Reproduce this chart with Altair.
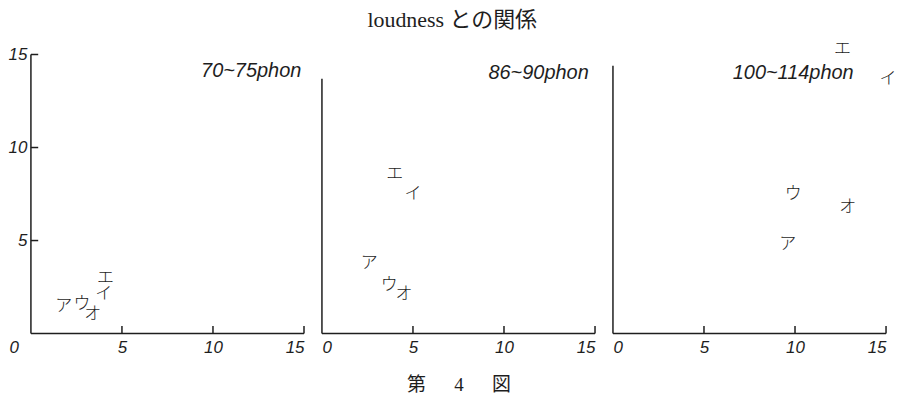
import altair as alt
import pandas as pd

# ---- data ----
kana = ["ア", "イ", "ウ", "エ", "オ"]
panel_names = ["70~75phon", "86~90phon", "100~114phon"]
p1_x = [1.8, 4.0, 2.8, 4.1, 3.4]
p1_y = [1.5, 2.15, 1.6, 3.0, 1.07]
p2_x = [2.6, 5.0, 3.7, 4.0, 4.5]
p2_y = [3.8, 7.5, 2.6, 8.6, 2.1]
p3_x = [9.6, 15.1, 9.9, 12.6, 12.9]
p3_y = [4.8, 13.7, 7.5, 15.3, 6.8]
label_x = [12.1, 11.9, 9.9]
label_y = [14.1, 14.0, 14.0]
y_axis_top = [15, 13.7, 14.4]
x_label_values = [0, 5, 10, 15]
x_tick_values = [5, 10, 15]
y_tick_values = [5, 10, 15]
tick_len = 0.4
caption = "第\u3000\u20024\u3000\u2002図"
main_title = "loudness との関係"

points = [(p1_x, p1_y), (p2_x, p2_y), (p3_x, p3_y)]

SERIF = "Liberation Serif, Noto Sans CJK JP"
HAND = "Liberation Sans"
INK = "#1e1e1e"

xs = alt.Scale(domain=[0, 15], nice=False)
ys = alt.Scale(domain=[0, 15], nice=False)


def panel(i):
    px, py = points[i]
    pts = pd.DataFrame({"x": px, "y": py, "k": kana})
    rules = [dict(x=0, x2=15, y=0, y2=0), dict(x=0, x2=0, y=0, y2=y_axis_top[i])]
    for t in x_tick_values:
        rules.append(dict(x=t, x2=t, y=0, y2=tick_len))
    if i == 0:
        for t in y_tick_values:
            rules.append(dict(x=0, x2=tick_len, y=t, y2=t))
    rdf = pd.DataFrame(rules)
    lab = pd.DataFrame({"x": [label_x[i]], "y": [label_y[i]], "t": [panel_names[i]]})

    xtitle = caption if i == 1 else None
    xaxis_kw = dict(values=x_label_values, labelFont=HAND, labelFontStyle="italic",
                    labelFontSize=17, labelColor=INK, ticks=False, domain=False,
                    grid=False, labelPadding=6, title=xtitle, titleFont=SERIF,
                    titleFontSize=19, titleFontWeight="normal", titleColor=INK,
                    titlePadding=20)
    if i == 0:
        xaxis_kw["labelOffset"] = {"condition": {"test": "datum.value == 0", "value": -22},
                                   "value": 0}
    xaxis = alt.Axis(**xaxis_kw)
    if i == 0:
        yaxis = alt.Axis(values=y_tick_values, labelFont=HAND, labelFontStyle="italic",
                         labelFontSize=17, labelColor=INK, ticks=False, domain=False,
                         grid=False, labelPadding=4, title=None)
    else:
        yaxis = alt.Axis(labels=False, ticks=False, domain=False, grid=False, title=None)

    X = lambda f: alt.X(f, scale=xs, axis=xaxis, title=xtitle)
    Y = lambda f: alt.Y(f, scale=ys, axis=yaxis, title=None)

    r = alt.Chart(rdf).mark_rule(color=INK, strokeWidth=1.5).encode(
        x=X("x:Q"), x2="x2:Q", y=Y("y:Q"), y2="y2:Q")
    t = alt.Chart(pts).mark_text(font="Noto Sans CJK JP", fontSize=17, color=INK,
                                 fontWeight=300).encode(
        x=X("x:Q"), y=Y("y:Q"), text="k:N")
    l = alt.Chart(lab).mark_text(font=HAND, fontStyle="italic", fontSize=20,
                                 color=INK).encode(
        x=X("x:Q"), y=Y("y:Q"), text="t:N")
    return alt.layer(r, t, l).properties(width=274, height=280)


chart = alt.hconcat(panel(0), panel(1), panel(2), spacing=18, bounds="flush").properties(
    title=alt.TitleParams(main_title, font=SERIF, fontSize=22, fontWeight="normal",
                          color=INK, anchor="middle", offset=8),
    padding={"left": 0, "top": 0, "right": 0, "bottom": 0},
    background="white",
).configure_view(stroke=None)

chart.save("out.html", embed_options={"renderer": "svg", "actions": False})
